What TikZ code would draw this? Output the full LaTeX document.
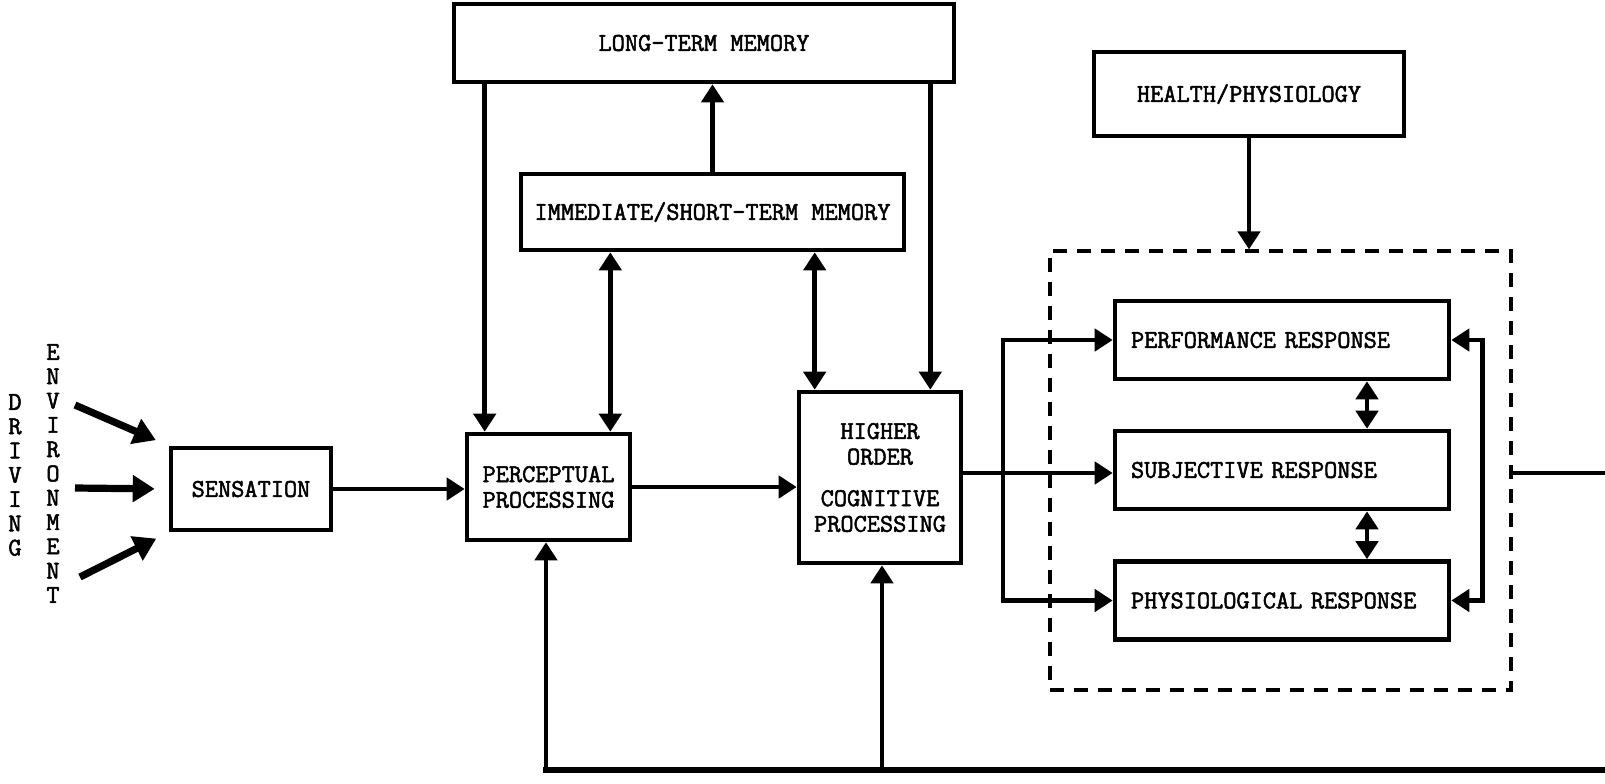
\documentclass[tikz,border=0pt]{standalone}
\usepackage{fontspec}
\usetikzlibrary{arrows.meta}
\newfontfamily\typeface{Latin Modern Mono}[FakeBold=2]
\tikzset{
    >={Triangle[length=9pt,width=11pt]},
    block/.style={draw, rectangle, line width=2.3pt, inner sep=0pt, align=center,
        font=\typeface\fontsize{12.8}{12.8}\selectfont},
    response/.style={block, minimum width=167pt, minimum height=39pt,
        text width=151pt, inner xsep=8pt, align=left},
    group/.style={draw, rectangle, line width=1.6pt, dash pattern=on 7pt off 5pt,
        minimum width=230.5pt, minimum height=219.5pt},
    flow/.style={line width=2.4pt},
    envarrow/.style={line width=3.6pt, -{Triangle[length=11pt,width=13pt]}, shorten >=7pt},
    column/.style={align=center, inner sep=0pt,
        font=\typeface\fontsize{12.8}{12.15}\selectfont}
}

\begin{document}
\begin{tikzpicture}[x=0.5pt,y=-0.5pt]
    \useasboundingbox (0,0) rectangle (1605,783);
    % memories
    \node[block, minimum width=250pt, minimum height=39pt] (ltm) at (704,43) {LONG-TERM MEMORY};
    \node[block, minimum width=191.5pt, minimum height=38pt] (stm) at (712.5,212) {IMMEDIATE/SHORT-TERM MEMORY};
    % processing chain
    \node[column] (driving) at (15,475) {D\\R\\I\\V\\I\\N\\G};
    \node[column] (environment) at (53,473.5) {E\\N\\V\\I\\R\\O\\N\\M\\E\\N\\T};
    \node[block, minimum width=80pt, minimum height=41pt] (sens) at (251,489) {SENSATION};
    \node[block, minimum width=81.5pt, minimum height=53pt] (perc) at (548.5,487) {PERCEPTUAL\\PROCESSING};
    \node[block, minimum width=81pt, minimum height=85.5pt] (higher) at (880,477.5) {HIGHER\\ORDER\\[8pt]COGNITIVE\\PROCESSING};
    % responses
    \node[block, minimum width=155pt, minimum height=42pt] (health) at (1249,94) {HEALTH/PHYSIOLOGY};
    \node[group] (resp) at (1280.5,470.5) {};
    \node[response] (perf) at (1282,340) {PERFORMANCE RESPONSE};
    \node[response] (subj) at (1282,470) {SUBJECTIVE RESPONSE};
    \node[response] (phys) at (1282,600.5) {PHYSIOLOGICAL RESPONSE};
    \coordinate (envTop) at (75,405);
    \coordinate (envMid) at (75,488);
    \coordinate (envBot) at (80,577);
    \coordinate (outRight) at (1605,473);
    \coordinate (loopRight) at (1605,770);
    \coordinate (loopLeft) at (546,770);
    \coordinate (branch) at (1003,473);

    \draw[envarrow] (envTop) -- (sens.north west);
    \draw[envarrow] (envMid) -- (sens.west);
    \draw[envarrow] (envBot) -- (sens.south west);
    \begin{scope}[flow]
        \draw[->] (sens.east) -- (sens.east -| perc.west);
        \draw[->] (perc.east) -- (perc.east -| higher.west);
        \draw[->] ([xshift=10pt]perc.north west |- ltm.south) -- ([xshift=10pt]perc.north west);
        \draw[->] ([xshift=-16.5pt]higher.north east |- ltm.south) -- ([xshift=-16.5pt]higher.north east);
        \draw[->] (stm.north) -- (stm.north |- ltm.south);
        \draw[<->] ([xshift=-11pt]perc.north east |- stm.south) -- ([xshift=-11pt]perc.north east);
        \draw[<->] ([xshift=9pt]higher.north west |- stm.south) -- ([xshift=9pt]higher.north west);
        \draw[->] (higher.east |- branch) -- (subj.west |- branch);
        \draw[<->] (perf.west) -| (branch) |- (phys.west);
        \draw[<->] (perf.east) -- ++(15.5pt,0) |- (phys.east);
        \draw[<->] ([xshift=42.5pt]perf.south) -- ([xshift=42.5pt]subj.north);
        \draw[<->] ([xshift=42.5pt]subj.south) -- ([xshift=42.5pt]phys.north);
        \draw[->] (health.south) -- (health.south |- resp.north);
        \draw (resp.east |- outRight) -- (outRight);
        \draw[line width=3pt, line cap=rect] (loopRight) -- (loopLeft);
        \draw[->] (loopLeft) -- (loopLeft |- perc.south);
        \draw[->] ([xshift=1pt]higher.south |- loopRight) -- ([xshift=1pt]higher.south);
    \end{scope}
\end{tikzpicture}
\end{document}
